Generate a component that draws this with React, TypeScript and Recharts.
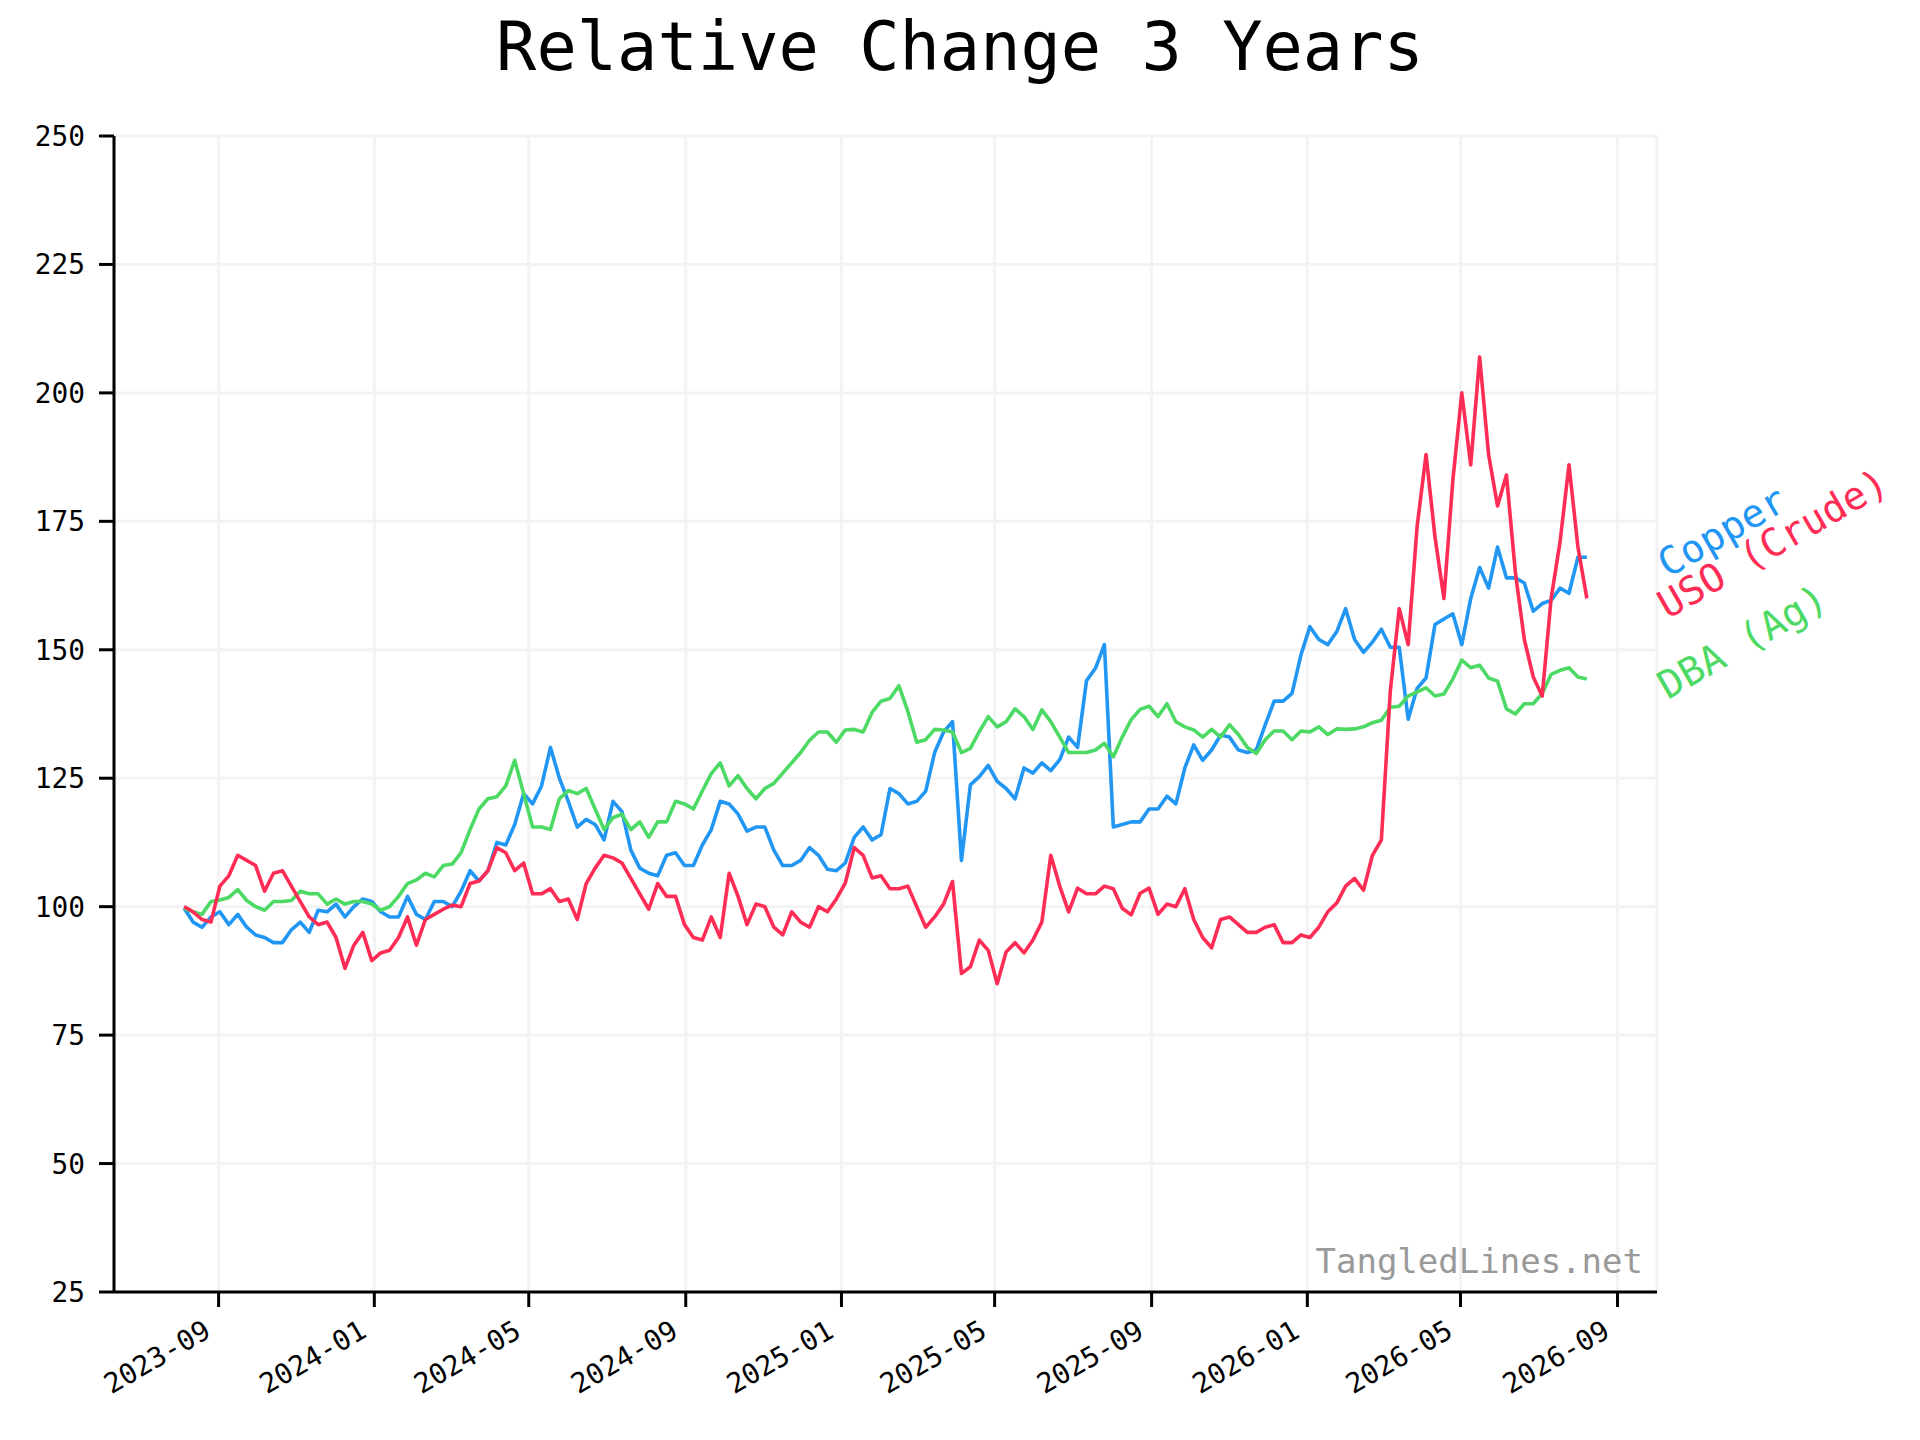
import { CartesianGrid, Line, LineChart, ReferenceDot, XAxis, YAxis } from 'recharts';

const FONT = '"DejaVu Sans Mono", monospace';

// weekly samples, first one on 2023-08-05
const START_DATE = '2023-08-05';
const STEP_DAYS = 7;

const copper = [
  99.7, 97, 96, 98, 99, 96.5, 98.5, 96, 94.5, 94, 93, 93, 95.5, 97, 95, 99.3, 99, 100.5, 98, 100,
  101.5, 101, 99, 98, 98, 102, 98.5, 97.5, 101, 101, 100, 103, 107, 105, 107, 112.5, 112, 116, 122, 120,
  123.5, 131, 125, 120.5, 115.5, 117, 116, 113, 120.5, 118.5, 111, 107.5, 106.5, 106, 110, 110.5, 108, 108, 112, 115,
  120.5, 120, 118, 114.7, 115.5, 115.5, 111, 108, 108, 109, 111.5, 110, 107.3, 107, 108.5, 113.5, 115.5, 113, 114, 123,
  122, 120, 120.5, 122.5, 130, 134, 136, 109, 123.7, 125.3, 127.5, 124.4, 123, 121, 127, 126, 128, 126.5, 128.6, 133,
  131, 144, 146.4, 151, 115.5, 116, 116.5, 116.5, 119, 119, 121.5, 120, 127, 131.5, 128.5, 130.5, 133.4, 133, 130.5, 130,
  130.5, 135.4, 140, 140, 141.5, 149, 154.5, 152, 151, 153.5, 158, 152, 149.5, 151.5, 154, 150.5, 150.5, 136.5, 142.5, 144.5,
  154.9, 156, 157, 151, 160, 166, 162, 170, 164, 164, 163, 157.5, 159, 159.6, 162, 161, 168, 168,
];

const uso = [
  100, 99, 97.5, 97, 104, 106, 110, 109, 108, 103, 106.5, 107, 104, 101, 98, 96.5, 97, 94, 88, 92.5,
  95, 89.5, 91, 91.5, 94, 98, 92.5, 97.5, 98.5, 99.5, 100.3, 100, 104.5, 105, 107, 111.5, 110.5, 107, 108.5, 102.5,
  102.5, 103.5, 101, 101.5, 97.5, 104.5, 107.5, 110, 109.5, 108.5, 105.5, 102.5, 99.5, 104.5, 102, 102, 96.5, 94, 93.5, 98,
  94, 106.5, 102, 96.5, 100.5, 100, 96, 94.5, 99, 97, 96, 100, 99, 101.5, 104.6, 111.5, 110, 105.6, 106, 103.5,
  103.5, 104, 100, 96, 98, 100.5, 104.9, 87, 88.3, 93.5, 91.5, 85, 91.2, 93, 91, 93.5, 97, 110, 104, 99,
  103.6, 102.5, 102.5, 104, 103.5, 99.7, 98.4, 102.6, 103.6, 98.5, 100.5, 100, 103.5, 97.5, 94, 92, 97.5, 98, 96.5, 95,
  95, 96, 96.5, 93, 93, 94.5, 94, 96, 99, 100.7, 104, 105.5, 103.2, 110, 113, 142, 158, 151, 174, 188,
  172, 160, 183, 200, 186, 207, 188, 178, 184, 165, 152, 144.7, 141, 160, 171, 186, 170, 160,
];

const dba = [
  99.7, 99, 98.5, 101, 101.3, 101.8, 103.3, 101.2, 100, 99.3, 101, 101, 101.2, 103, 102.5, 102.5, 100.5, 101.5, 100.5, 101,
  101, 100.5, 99.3, 100, 102, 104.5, 105.2, 106.5, 105.8, 108, 108.3, 110.5, 115, 119, 121, 121.4, 123.5, 128.5, 122, 115.5,
  115.5, 115, 121, 122.6, 122, 123, 119, 115, 117.3, 118, 115, 116.5, 113.5, 116.5, 116.5, 120.5, 120, 119, 122.5, 125.9,
  128, 123.5, 125.5, 123, 121, 123, 124, 126, 128, 130, 132.4, 134, 134, 132, 134.4, 134.5, 134, 137.8, 140, 140.5,
  143, 138, 132, 132.5, 134.5, 134.4, 134, 130, 130.8, 134.1, 137, 135, 136, 138.5, 137, 134.5, 138.3, 136, 133, 130,
  130, 130, 130.5, 131.8, 129.2, 133, 136.4, 138.4, 139, 137, 139.5, 136, 135, 134.4, 133, 134.5, 133, 135.4, 133.5, 131,
  129.8, 132.5, 134.2, 134.2, 132.5, 134.2, 134, 135, 133.5, 134.6, 134.5, 134.6, 135, 135.8, 136.3, 138.8, 139, 141, 141.8, 142.6,
  141, 141.4, 144.3, 148, 146.5, 147, 144.5, 143.9, 138.5, 137.5, 139.5, 139.5, 141.5, 145.2, 146, 146.5, 144.7, 144.3,
];

const xTickLabels = [
  '2023-09', '2024-01', '2024-05', '2024-09', '2025-01',
  '2025-05', '2025-09', '2026-01', '2026-05', '2026-09',
];
const yTicks = [25, 50, 75, 100, 125, 150, 175, 200, 225, 250];

const series = [
  { key: 'copper', name: 'Copper', color: '#2196F3' },
  { key: 'dba', name: 'DBA (Ag)', color: '#4CD964' },
  { key: 'uso', name: 'USO (Crude)', color: '#FF2D55' },
];

const DAY = 86400000;
const t0 = Date.parse(START_DATE + 'T00:00:00Z');
const data = copper.map((c, i) => ({
  t: t0 + i * STEP_DAYS * DAY,
  copper: c,
  uso: uso[i],
  dba: dba[i],
}));
const tFirst = data[0].t;
const tLast = data[data.length - 1].t;
const pad = (tLast - tFirst) * 0.05;
const xTicks = xTickLabels.map((s) => Date.parse(s + '-01T00:00:00Z'));

const fmtMonth = (t: number) => {
  const d = new Date(t);
  return `${d.getUTCFullYear()}-${String(d.getUTCMonth() + 1).padStart(2, '0')}`;
};

function XTick({ x, y, payload }: any) {
  const px = x - 6;
  const py = y + 29;
  return (
    <text
      x={px}
      y={py}
      transform={`rotate(-30 ${px} ${py})`}
      textAnchor="end"
      fontFamily={FONT}
      fontSize={27.8}
      fill="#000"
    >
      {fmtMonth(payload.value)}
    </text>
  );
}

function YTick({ x, y, payload }: any) {
  return (
    <text x={x - 14} y={y + 10} textAnchor="end" fontFamily={FONT} fontSize={27.8} fill="#000">
      {payload.value}
    </text>
  );
}

function EndLabel(name: string, color: string) {
  return (p: any) => {
    const lx = p.cx + 81;
    const ly = p.cy + 21;
    return (
      <text
        x={lx}
        y={ly}
        transform={`rotate(-30 ${lx} ${ly})`}
        fontFamily={FONT}
        fontSize={38.9}
        fill={color}
      >
        {name}
      </text>
    );
  };
}

export default function App() {
  const last = data[data.length - 1] as any;
  return (
    <div style={{ position: 'absolute', left: 0, top: 0, width: 1920, height: 1440, background: '#fff' }}>
      <LineChart
        width={1920}
        height={1440}
        data={data}
        margin={{ top: 136, right: 263, bottom: 88, left: 54 }}
      >
        <CartesianGrid stroke="#f3f3f3" strokeWidth={3} />
        <XAxis
          dataKey="t"
          type="number"
          scale="time"
          domain={[tFirst - pad, tLast + pad]}
          ticks={xTicks}
          interval={0}
          height={60}
          axisLine={{ stroke: '#000', strokeWidth: 3 }}
          tickLine={{ stroke: '#000', strokeWidth: 3 }}
          tickSize={15}
          tickMargin={0}
          tick={<XTick />}
          allowDataOverflow
        />
        <YAxis
          type="number"
          domain={[25, 250]}
          ticks={yTicks}
          interval={0}
          width={60}
          axisLine={{ stroke: '#000', strokeWidth: 3 }}
          tickLine={{ stroke: '#000', strokeWidth: 3 }}
          tickSize={15}
          tickMargin={0}
          tick={<YTick />}
          allowDataOverflow
        />
        {series.map((s) => (
          <Line
            key={s.key}
            type="linear"
            dataKey={s.key}
            stroke={s.color}
            strokeWidth={3.6}
            strokeLinejoin="round"
            dot={false}
            activeDot={false}
            isAnimationActive={false}
          />
        ))}
        {series.map((s) => (
          <ReferenceDot
            key={s.key + '-label'}
            x={last.t}
            y={last[s.key]}
            r={0}
            ifOverflow="visible"
            shape={EndLabel(s.name, s.color)}
          />
        ))}
      </LineChart>
      <svg
        width={1920}
        height={1440}
        style={{ position: 'absolute', left: 0, top: 0, pointerEvents: 'none' }}
      >
        <text x={960} y={70} textAnchor="middle" fontFamily={FONT} fontSize={67} fill="#000">
          Relative Change 3 Years
        </text>
        <text x={1643} y={1273} textAnchor="end" fontFamily={FONT} fontSize={34} fill="#999">
          TangledLines.net
        </text>
      </svg>
    </div>
  );
}
